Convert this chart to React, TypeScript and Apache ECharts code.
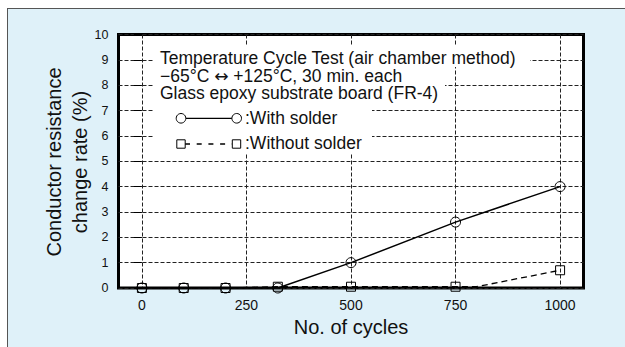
import React, { useEffect, useRef } from 'react';
import * as echarts from 'echarts';

const cycleTicks = [0, 250, 500, 750, 1000];
const withSolderCycles = [0, 100, 200, 325, 500, 750, 1000];
const withSolderRate = [0, 0, 0, 0, 1.0, 2.6, 4.0];
const withoutSolderCycles = [0, 100, 200, 325, 500, 750, 800, 1000];
const withoutSolderRate = [0, 0, 0, 0.05, 0.05, 0.05, 0.05, 0.7];
const withoutSolderMarked = [true, true, true, true, true, true, false, true];
const noteLines = [
  'Temperature Cycle Test (air chamber method)',
  '\u221265\u00b0C {arr|\u2194} +125\u00b0C, 30 min. each',
  'Glass epoxy substrate board (FR-4)',
];
const legendLabels = [':With solder', ':Without solder'];
const xAxisName = 'No. of cycles';
const yAxisNameLines = ['Conductor resistance', 'change rate (%)'];

const FONT = '"Liberation Sans", Arial, Helvetica, sans-serif';
const INK = '#111';

export default function App() {
  const ref = useRef<HTMLDivElement>(null);
  useEffect(() => {
    if (!ref.current) return;
    const chart = echarts.init(ref.current, undefined, { renderer: 'svg' });
    const option: any = {
      animation: false,
      textStyle: { fontFamily: FONT, color: INK },
      grid: {
        left: 118.5,
        right: 41.5,
        top: 34.5,
        bottom: 59,
        show: true,
        backgroundColor: '#fff',
        borderColor: '#000',
        borderWidth: 3,
      },
      xAxis: {
        type: 'value',
        min: -56,
        max: 1056,
        name: xAxisName,
        nameLocation: 'middle',
        nameGap: 28,
        nameTextStyle: { fontSize: 20, color: INK, fontFamily: FONT },
        axisLine: { show: false },
        axisTick: { show: false, customValues: cycleTicks },
        axisLabel: {
          customValues: cycleTicks,
          fontSize: 14,
          color: INK,
          margin: 10,
          fontFamily: FONT,
          formatter: (v: number) => String(v),
        },
        splitLine: { show: true, lineStyle: { color: '#222', width: 1, type: [4, 2] } },
      },
      yAxis: {
        type: 'value',
        min: 0,
        max: 10,
        interval: 1,
        axisLine: { show: false },
        axisTick: { show: true, length: 8, lineStyle: { color: '#000', width: 1 } },
        axisLabel: { fontSize: 12.5, color: INK, margin: 10, fontFamily: FONT },
        splitLine: { show: true, lineStyle: { color: '#222', width: 1, type: [4, 2] } },
      },
      series: [
        {
          type: 'line',
          name: 'Without solder',
          data: withoutSolderCycles.map((c, i) => ({
            value: [c, withoutSolderRate[i]],
            symbol: withoutSolderMarked[i] ? 'rect' : 'none',
          })),
          symbol: 'rect',
          symbolSize: 9,
          clip: false,
          z: 3,
          itemStyle: { color: 'rgba(0,0,0,0)', borderColor: '#000', borderWidth: 1 },
          lineStyle: { color: '#000', width: 1.3, type: [6, 4] },
        },
        {
          type: 'line',
          name: 'With solder',
          data: withSolderCycles.map((c, i) => [c, withSolderRate[i]]),
          symbol: 'circle',
          symbolSize: 10,
          clip: false,
          z: 4,
          itemStyle: { color: 'rgba(0,0,0,0)', borderColor: '#000', borderWidth: 1 },
          lineStyle: { color: '#000', width: 1.5 },
        },
      ],
      graphic: [
        {
          type: 'text',
          z: 60,
          x: 67,
          y: 162,
          rotation: Math.PI / 2,
          style: {
            text: yAxisNameLines.join('\n'),
            fontSize: 20,
            lineHeight: 26,
            fontFamily: FONT,
            fill: INK,
            align: 'center',
            verticalAlign: 'middle',
          },
        },
        { type: 'rect', z: 50, shape: { x: 153, y: 46, width: 377, height: 21 }, style: { fill: '#fff' } },
        { type: 'rect', z: 50, shape: { x: 153, y: 66, width: 263, height: 18 }, style: { fill: '#fff' } },
        { type: 'rect', z: 50, shape: { x: 153, y: 83, width: 292, height: 19 }, style: { fill: '#fff' } },
        { type: 'rect', z: 50, shape: { x: 153, y: 101, width: 219, height: 52 }, style: { fill: '#fff' } },
        {
          type: 'text',
          z: 60,
          x: 160,
          y: 75.8,
          style: {
            text: noteLines.join('\n'),
            fontSize: 17.5,
            lineHeight: 17.7,
            fontFamily: FONT,
            fill: INK,
            verticalAlign: 'middle',
            align: 'left',
            rich: {
              arr: { fontFamily: '"DejaVu Sans", sans-serif', fontSize: 17, fill: INK, lineHeight: 17.7 },
            },
          },
        },
        { type: 'line', z: 60, shape: { x1: 185.8, y1: 118.3, x2: 231.9, y2: 118.3 }, style: { stroke: '#000', lineWidth: 1.3 } },
        { type: 'circle', z: 61, shape: { cx: 181, cy: 118.3, r: 4.8 }, style: { fill: '#fff', stroke: '#000', lineWidth: 1 } },
        { type: 'circle', z: 61, shape: { cx: 236.7, cy: 118.3, r: 4.8 }, style: { fill: '#fff', stroke: '#000', lineWidth: 1 } },
        { type: 'line', z: 60, shape: { x1: 185, y1: 144, x2: 232, y2: 144 }, style: { stroke: '#000', lineWidth: 1.3, lineDash: [5, 6.7] } },
        { type: 'rect', z: 61, shape: { x: 176.8, y: 139.8, width: 8.4, height: 8.4 }, style: { fill: '#fff', stroke: '#000', lineWidth: 1 } },
        { type: 'rect', z: 61, shape: { x: 232.3, y: 139.8, width: 8.4, height: 8.4 }, style: { fill: '#fff', stroke: '#000', lineWidth: 1 } },
        {
          type: 'text',
          z: 60,
          x: 245,
          y: 130.4,
          style: {
            text: legendLabels.join('\n'),
            fontSize: 17.5,
            lineHeight: 25.7,
            fontFamily: FONT,
            fill: INK,
            verticalAlign: 'middle',
            align: 'left',
          },
        },
      ],
    };
    chart.setOption(option);
    return () => chart.dispose();
  }, []);

  return (
    <div style={{ position: 'fixed', left: 0, top: 0, width: 625, height: 347, background: '#fff', overflow: 'hidden' }}>
      <div
        style={{
          position: 'absolute',
          left: 7,
          top: 8,
          width: 640,
          height: 360,
          background: '#dff1f9',
          borderTop: '1.5px solid #555',
          borderLeft: '1.5px solid #555',
        }}
      />
      <div ref={ref} style={{ position: 'absolute', left: 0, top: 0, width: 625, height: 347 }} />
    </div>
  );
}
